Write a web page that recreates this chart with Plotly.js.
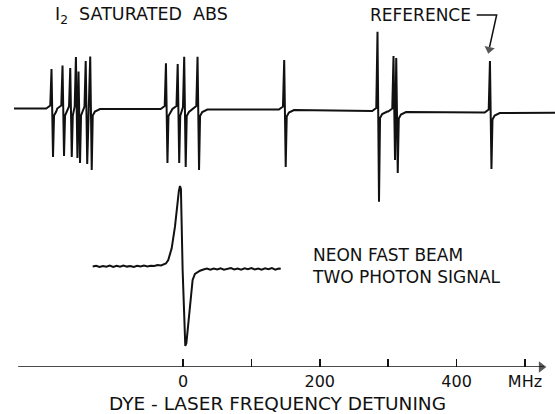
<!DOCTYPE html>
<html><head><meta charset="utf-8">
<script src="https://cdn.plot.ly/plotly-3.0.1.min.js"></script>
<style>html,body{margin:0;padding:0;background:#fff}#chart{width:555px;height:414px}</style>
</head><body><div id="chart"></div>
<script>
// ---- I2 saturated absorption: dispersive lines (frequency in MHz, signal in arb. units) ----
const i2LinePos  = [-191.1,-175.0,-163.7,-155.4,-151.6,-141.1,-134.5,-23.8,-6.6,2.9,22.4,149.1,285.5,308.9,312.9,449.9];
const i2LinePeak = [39.5,43,40.5,51.5,37,47.5,52,45.7,45,52.3,52.3,49.5,79.3,55.5,53.5,51.5];
const i2LineDip  = [48.5,47.5,48.5,49.5,54.5,55.5,61.5,54,54,58,61,57.5,90.7,48.5,61.5,56.5];
const i2LineBase = [0.5,0.5,0.5,0.5,0.5,0.5,0.5,0,0,0,0,-0.5,-2,-2.5,-2.5,-3.5];
const i2TraceStart = [-247, 0.5];
const i2TraceEnd   = [544, -3.7];

// ---- Neon fast beam two-photon signal ----
const neonFreq = [-132,-127,-122,-117,-112,-107,-102,-97,-92,-87,-82,-77,-72,-67,-62,-57,-52,-47,-42,-37,-32,-28,-25,-21.5,-16.5,-11.7,-8.3,-6,-4.4,-3,-0.5,3.4,5,6.8,10.2,14.1,17.5,24.9,30,35,40,45,50,55,60,65,70,75,80,85,90,95,100,105,110,115,120,125,130,135,140,143];
const neonSignal = [0.5,1.2,0,1.0,0.3,1.5,0,1.2,0.2,1.4,0.4,1.0,0,1.3,0.5,1.5,0.6,1.2,1.0,2.0,1.5,2.5,3.5,7,18.7,40.3,63.7,76,81,78,-3,-79,-76,-63,-36.3,-13,-7,-3.7,-2.5,-1.5,-2.8,-1.6,-2.4,-1.2,-2.6,-1.8,-1.0,-2.4,-1.5,-2.7,-1.3,-2.2,-1.0,-2.5,-1.6,-2.8,-1.4,-2.3,-1.1,-2.6,-1.5,-1.8];

// ---- axis ticks ----
const tickVals   = [0,200,400,500];
const tickTexts  = ['0','200','400','MHz'];
const minorTicks = [100,300];
const axisSpan   = [-241, 528];   // drawn extent of the frequency axis (MHz)
const axisHeadX  = 524;

// ---- "REFERENCE" pointer (MHz, I2 signal units) ----
const refPointerX = [429.4, 458.6, 448.2];
const refPointerY = [94, 94, 62];
const refHeadX = 447.7, refHeadY = 59.6;

// Build the dispersive trace (each line: small rise, peak, dip, recovery hook)
const ix = [i2TraceStart[0]], iy = [i2TraceStart[1]];
for (let i = 0; i < i2LinePos.length; i++) {
  const p = i2LinePos[i], b = i2LineBase[i], h = i2LinePeak[i], d = i2LineDip[i];
  const prevGap = i > 0 ? p - i2LinePos[i-1] : Infinity;
  const nextGap = i < i2LinePos.length-1 ? i2LinePos[i+1] - p : Infinity;
  if (prevGap > 12) { ix.push(p-8.8, p-2.9); iy.push(b, b+3); }
  else if (prevGap > 5) { ix.push(p-2.9); iy.push(b+2); }
  ix.push(p-1.1, p+1.1); iy.push(b+h, b-d);
  if (nextGap > 5) { ix.push(p+2.6); iy.push(b-7); }
  if (nextGap > 20) { ix.push(p+5.8, p+13.2); iy.push(b-3, b-0.5); }
  else if (nextGap > 12) { ix.push(p+5.8); iy.push(b-3); }
}
ix.push(i2TraceEnd[0]); iy.push(i2TraceEnd[1]);

const ink = '#111';
const yBottom = -258;  // bottom of the I2 y-range = position of the frequency axis
const data = [
  {x: ix, y: iy, type:'scatter', mode:'lines', line:{color:ink, width:2}, yaxis:'y', hoverinfo:'skip'},
  {x: neonFreq, y: neonSignal, type:'scatter', mode:'lines', line:{color:ink, width:2}, yaxis:'y2', hoverinfo:'skip'},
  {x: axisSpan, y: [yBottom, yBottom], type:'scatter', mode:'lines', yaxis:'y', cliponaxis:false, hoverinfo:'skip',
   line:{color:ink, width:1.5}},
  {x: [axisHeadX], y: [yBottom], type:'scatter', mode:'markers', yaxis:'y', cliponaxis:false, hoverinfo:'skip',
   marker:{symbol:'triangle-right', size:[10], color:ink, line:{width:0}}},
  {x: refPointerX, y: refPointerY, type:'scatter', mode:'lines', yaxis:'y', cliponaxis:false, hoverinfo:'skip',
   line:{color:ink, width:1.5}},
  {x: [refHeadX], y: [refHeadY], type:'scatter', mode:'markers', yaxis:'y', cliponaxis:false, hoverinfo:'skip',
   marker:{symbol:'triangle-down', size:[9], angle:12, color:ink, line:{width:0}}}
];

const layout = {
  width:555, height:414,
  margin:{l:0, r:0, t:0, b:47},
  paper_bgcolor:'#fff', plot_bgcolor:'#fff', showlegend:false,
  font:{family:'DejaVu Sans, sans-serif', color:ink, size:16},
  xaxis:{range:[-267.5,543.9], tickmode:'array', tickvals:tickVals, ticktext:tickTexts,
    ticks:'inside', ticklen:8, tickwidth:1.5, tickcolor:ink, showline:false, showgrid:false, zeroline:false,
    ticklabelstandoff:3,
    minor:{tickmode:'array', tickvals:minorTicks, ticks:'inside', ticklen:8, tickwidth:1.5, tickcolor:ink, showgrid:false},
    tickfont:{size:16, color:ink},
    title:{text:'DYE - LASER FREQUENCY DETUNING', font:{size:18.5, color:ink}, standoff:12}},
  yaxis:{range:[yBottom,109], visible:false, showgrid:false, zeroline:false},
  yaxis2:{range:[-100,267], overlaying:'y', visible:false, showgrid:false, zeroline:false},
  annotations:[
    {x:424.4, y:94, xref:'x', yref:'y', xanchor:'right', yanchor:'middle', text:'REFERENCE', showarrow:false, font:{size:17, color:ink}},
    {x:-190, y:94, xref:'x', yref:'y', xanchor:'left', yanchor:'middle', text:'I<sub>2</sub>\u00a0 SATURATED\u00a0 ABS', showarrow:false, font:{size:17.5, color:ink}},
    {x:185.5, y:1, xref:'x', yref:'y2', xanchor:'left', yanchor:'middle', align:'left', text:'NEON FAST BEAM<br>TWO PHOTON SIGNAL', showarrow:false, font:{size:17, color:ink}}
  ]
};

Plotly.newPlot('chart', data, layout, {staticPlot:true, displayModeBar:false});
</script></body></html>
